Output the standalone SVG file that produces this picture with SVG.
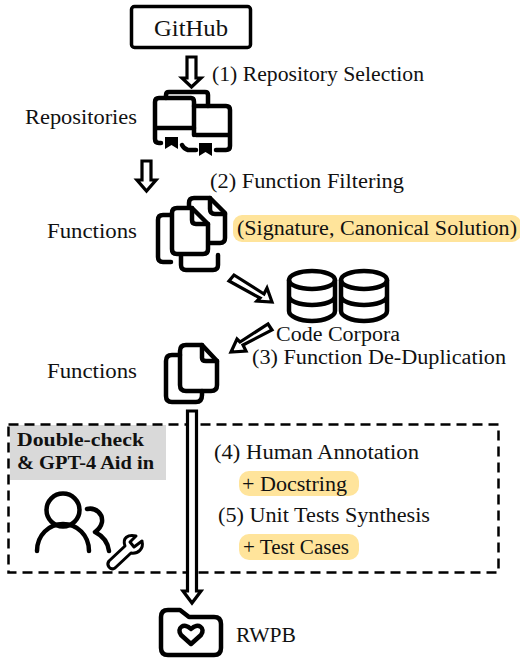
<svg xmlns="http://www.w3.org/2000/svg" width="520" height="660" viewBox="0 0 520 660">
<style>
text{font-family:"Liberation Serif","DejaVu Serif",serif;font-size:20px;fill:#111}
.i{fill:none;stroke:#000;stroke-width:4.5px;stroke-linecap:round;stroke-linejoin:round}
.a{fill:#fff;stroke:#000;stroke-width:3.2px;stroke-linejoin:miter}
.hl{fill:#ffe49b}
</style>
<rect width="520" height="660" fill="#fff"/>
<g id="highlights">
<rect class="hl" x="233" y="215" width="288" height="27" rx="9"/>
<rect class="hl" x="239" y="471" width="120" height="25" rx="10"/>
<rect class="hl" x="239" y="534" width="120" height="26" rx="10"/>
<rect x="10" y="425" width="156" height="55" fill="#d9d9d9"/>
</g>
<g id="group-box"><rect x="8.500" y="424.500" width="490" height="148" fill="none" stroke="#000" stroke-width="2.500" stroke-dasharray="10 6"/></g>
<g id="connectors">
<path class="a" d="M187 57H196V78H201L191.500 87L182 78H187Z"/>
<path class="a" d="M142 161H151V180H156L146.500 191L137 180H142Z"/>
<path class="a" d="M229 281L234 275L264 294L267 288L272 302L257 301L260 298Z"/>
<path class="a" d="M268 324L272 330L243 345L246 351L231 352L237 339L240 342Z"/>
<path class="a" d="M187.500 411H196.500V591H201L192 603L183 591H187.500Z"/>
</g>
<g id="github"><rect x="131.500" y="6.500" width="119" height="41" rx="3" fill="#fff" stroke="#000" stroke-width="3.500"/><text x="191" y="36" text-anchor="middle" style="font-size:23px" textLength="74" lengthAdjust="spacingAndGlyphs">GitHub</text></g>
<g id="repositories">
<path class="i" d="M166 98V95Q166 92 169 92H205Q208 92 208 95V106"/>
<path class="i" d="M161 143H159Q155 143 155 139V102Q155 98 159 98H191Q194 98 194 102V128H155"/>
<path class="i" d="M194 106H226Q230 106 230 110V146Q230 150 226 150H216M196 135H230M194 128V135M196 150H188Q184 149 182 145"/>
<path d="M165 137H178V149L171.500 145L165 149Z M199 143H212V156L205.500 152L199 156Z M178 143H184" fill="#000"/>
<text x="25" y="124" textLength="112" lengthAdjust="spacingAndGlyphs">Repositories</text>
</g>
<text x="212" y="81" textLength="212" lengthAdjust="spacingAndGlyphs">(1) Repository Selection</text>
<text x="210" y="188" textLength="194" lengthAdjust="spacingAndGlyphs">(2) Function Filtering</text>
<g id="functions-1">
<path class="i" d="M171 262H163Q158 262 158 257V220Q158 215 163 215H171"/>
<path class="i" d="M181 256V265Q181 270 186 270H213Q218 270 218 265V255"/>
<path class="i" d="M189 207V203Q189 198 194 198H210L225 213V238Q225 243 220 243H210"/>
<path class="i" d="M210 198V209Q210 214 215 214H225"/>
<path class="i" d="M177 208H192L208 224V249Q208 254 203 254H177Q172 254 172 249V213Q172 208 177 208Z"/>
<path class="i" d="M192 208V220Q192 224 196 224H208"/>
<text x="47" y="238" textLength="90" lengthAdjust="spacingAndGlyphs">Functions</text>
<text x="237" y="235" textLength="280" lengthAdjust="spacingAndGlyphs">(Signature, Canonical Solution)</text>
</g>
<g id="code-corpora">
<ellipse class="i" cx="312" cy="280" rx="23" ry="9"/>
<path class="i" d="M289 280V311C289 316 299 321 312 321S335 316 335 311V280M289 296C289 301 299 305 312 305S335 301 335 296"/>
<ellipse class="i" cx="364" cy="280" rx="23" ry="9"/>
<path class="i" d="M341 280V311C341 316 351 321 364 321S387 316 387 311V280M341 296C341 301 351 305 364 305S387 301 387 296"/>
<text x="276" y="341" textLength="124" lengthAdjust="spacingAndGlyphs">Code Corpora</text>
</g>
<text x="252" y="364" textLength="254" lengthAdjust="spacingAndGlyphs">(3) Function De-Duplication</text>
<g id="functions-2">
<path class="i" d="M180 355H172Q166 355 166 361V396Q166 402 172 402H196Q202 402 202 395V391"/>
<path class="i" d="M186 345H202L217 361V385Q217 391 211 391H186Q180 391 180 385V351Q180 345 186 345Z"/>
<path class="i" d="M202 345V358Q202 361 206 361H217"/>
<text x="47" y="378" textLength="90" lengthAdjust="spacingAndGlyphs">Functions</text>
</g>
<g id="aid">
<text x="17" y="446" style="font-weight:700;font-size:19px" textLength="127" lengthAdjust="spacingAndGlyphs">Double-check</text>
<text x="17" y="469" style="font-weight:700;font-size:19px" textLength="137" lengthAdjust="spacingAndGlyphs">&amp; GPT-4 Aid in</text>
<circle class="i" cx="63" cy="510" r="16.500"/>
<path class="i" d="M37 551C37 535 49 524 63 524S89 535 89 551"/>
<path class="i" d="M87 509C96 507 103 514 102 522C101 527 98 530 95 532C103 536 108 543 109 551"/>
<path class="i" style="stroke-width:3px" d="M109 561L125 546C122 538 128 534 136 536L130 542L134 547L142 541C144 549 138 554 131 553L115 568C110 571 106 565 109 561Z"/>
</g>
<text x="214" y="459" textLength="205" lengthAdjust="spacingAndGlyphs">(4) Human Annotation</text>
<text x="242" y="491" textLength="105" lengthAdjust="spacingAndGlyphs">+ Docstring</text>
<text x="218" y="522" textLength="212" lengthAdjust="spacingAndGlyphs">(5) Unit Tests Synthesis</text>
<text x="243" y="554" textLength="106" lengthAdjust="spacingAndGlyphs">+ Test Cases</text>
<g id="rwpb">
<path class="i" d="M168 610H180L189 617H214Q221 617 221 624V648Q221 655 214 655H168Q161 655 161 648V617Q161 610 168 610Z"/>
<path class="i" d="M191 644L181 635C176 628 184 622 191 629C198 622 206 628 201 635Z"/>
<text x="236" y="642" textLength="60" lengthAdjust="spacingAndGlyphs">RWPB</text>
</g>
</svg>
